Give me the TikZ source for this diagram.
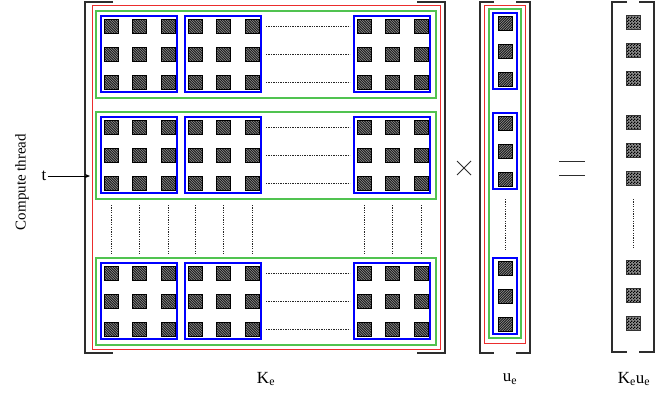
\documentclass[tikz,border=0pt]{standalone}
\usepackage{fontspec}
\setmainfont{Liberation Serif}
\usetikzlibrary{patterns,arrows.meta}
\definecolor{gr}{RGB}{80,195,80}
\definecolor{rd}{RGB}{235,45,45}
\definecolor{bl}{RGB}{0,0,255}
\definecolor{br}{RGB}{45,45,45}
\pgfdeclarepatternformonly{nwfine}{\pgfqpoint{-1pt}{-1pt}}{\pgfqpoint{3.5pt}{3.5pt}}{\pgfqpoint{2.5pt}{2.5pt}}{%
  \pgfsetlinewidth{0.8pt}\pgfpathmoveto{\pgfqpoint{-0.1pt}{2.6pt}}\pgfpathlineto{\pgfqpoint{2.6pt}{-0.1pt}}\pgfusepath{stroke}}
\pgfdeclarepatternformonly{nefine}{\pgfqpoint{-1pt}{-1pt}}{\pgfqpoint{3.5pt}{3.5pt}}{\pgfqpoint{2.5pt}{2.5pt}}{%
  \pgfsetlinewidth{0.8pt}\pgfpathmoveto{\pgfqpoint{-0.1pt}{-0.1pt}}\pgfpathlineto{\pgfqpoint{2.6pt}{2.6pt}}\pgfusepath{stroke}}
\pgfdeclarepatternformonly{finecheck}{\pgfpointorigin}{\pgfqpoint{3pt}{3pt}}{\pgfqpoint{3pt}{3pt}}{%
  \pgfpathrectangle{\pgfpointorigin}{\pgfqpoint{1.5pt}{1.5pt}}\pgfpathrectangle{\pgfqpoint{1.5pt}{1.5pt}}{\pgfqpoint{1.5pt}{1.5pt}}\pgfusepath{fill}}
\tikzset{
  brk/.style={draw=br, line width=1.1pt},
  redbox/.style={draw=rd, line width=1pt},
  greenbox/.style={draw=gr, line width=1.1pt},
  bluebox/.style={draw=bl, line width=1.2pt},
  dotline/.style={draw=black!85, line width=0.8pt, dash pattern=on 1.4pt off 1pt},
  kcell/.style={draw=black, line width=1pt, minimum size=14pt, inner sep=0pt,
     preaction={fill=black!40}, pattern=nwfine, pattern color=black!90},
  ucell/.style={draw=black, line width=1pt, minimum size=14pt, inner sep=0pt,
     preaction={fill=black!40}, pattern=nefine, pattern color=black!90},
  vcell/.style={draw=black!80, line width=0.7pt, minimum size=14pt, inner sep=0pt,
     preaction={fill=black!45}, pattern=finecheck, pattern color=black},
  lbl/.style={font=\fontsize{17}{20}\selectfont, inner sep=1pt},
  sym/.style={draw=br, line width=1pt}
}
\begin{document}
\begin{tikzpicture}[x=1pt,y=-1pt]
\useasboundingbox (0,0) rectangle (666,394);

% ---------- K_e matrix ----------
\draw[brk] (113,2) -- (85,2) -- (85,353) -- (113,353);
\draw[brk] (417,2) -- (445,2) -- (445,353) -- (417,353);
\draw[redbox] (92,5) rectangle (440,349);
\foreach \g/\gy in {0/16,1/117,2/263}{
  \draw[greenbox] (96,\gy-5) rectangle (436,\gy+82);
  \foreach \b/\bx in {1/101,2/185,3/354}{
    \foreach \i in {0,1,2}{
      \foreach \j in {0,1,2}{
        \node[kcell] (k\g-\b-\j-\i) at (\bx+10+28.5*\i,\gy+10+28*\j) {};
      }
    }
    \draw[bluebox] (\bx,\gy) rectangle (\bx+76,\gy+76);
  }
  \foreach \j in {0,1,2}{
    \draw[dotline] (266,\gy+10+28*\j) -- (350,\gy+10+28*\j);
  }
}
\foreach \vx in {111,139.5,168,195,223.5,252,364,392.5,421}{
  \draw[dotline, dash pattern=on 1.2pt off 1.2pt] (\vx,205) -- (\vx,255);
}

% ---------- thread label ----------
\node[rotate=90, font=\fontsize{15}{18}\selectfont] (ct) at (22,182) {Compute thread};
\node[lbl] (t) at (44,176) {t};
\coordinate (tip) at (90,176);
\draw[line width=0.8pt, -{Stealth[length=5pt,width=4pt]}] (t.east) -- (tip);

% ---------- times ----------
\draw[sym] (457,161) -- (471,175);
\draw[sym] (457,175) -- (471,161);

% ---------- u_e vector ----------
\draw[brk] (494,2) -- (480,2) -- (480,353) -- (494,353);
\draw[brk] (516,2) -- (530,2) -- (530,353) -- (516,353);
\draw[redbox] (484,5) rectangle (525,343);
\draw[greenbox] (489,9) rectangle (521,338);
\foreach \g/\gy in {0/13,1/113,2/258}{
  \foreach \j in {0,1,2}{
    \node[ucell] (u\g-\j) at (505,\gy+10+28*\j) {};
  }
  \draw[bluebox] (493,\gy) rectangle (517,\gy+76);
}
\draw[dotline, dash pattern=on 1.2pt off 1.2pt] (505,199) -- (505,250);

% ---------- equals ----------
\draw[sym] (559,161) -- (585,161);
\draw[sym] (559,175) -- (585,175);

% ---------- result vector ----------
\draw[brk] (627,2) -- (612,2) -- (612,352) -- (627,352);
\draw[brk] (639,2) -- (654,2) -- (654,352) -- (639,352);
\foreach \g/\gy in {0/12,1/112,2/257}{
  \foreach \j in {0,1,2}{
    \node[vcell] (r\g-\j) at (633,\gy+10+28*\j) {};
  }
}
\draw[dotline, dash pattern=on 1.2pt off 1.2pt] (633,199) -- (633,248);

% ---------- labels ----------
\node[lbl] (ke) at (266,379) {K\textsubscript{e}};
\node[lbl] (ue) at (510,379) {u\textsubscript{e}};
\node[lbl] (keue) at (634,379) {K\textsubscript{e}u\textsubscript{e}};
\end{tikzpicture}
\end{document}
